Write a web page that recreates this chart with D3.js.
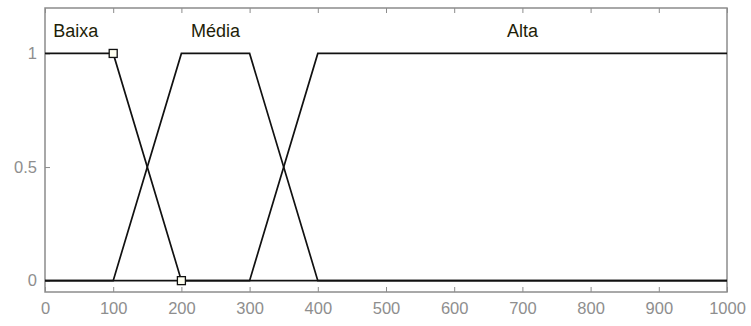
<!DOCTYPE html>
<html>
<head>
<meta charset="utf-8">
<script src="https://cdn.jsdelivr.net/npm/d3@7"></script>
<style>
  body { margin: 0; background: #fff; }
  svg { display: block; }
  .tick text { fill: #8e8e8e; font-family: Arial, "Liberation Sans", sans-serif; font-size: 16.5px; }
  .mflabel { font-family: Arial, "Liberation Sans", sans-serif; font-size: 18px; fill: #1e1e08; }
</style>
</head>
<body>
<svg id="chart" width="751" height="326"></svg>
<script>
// membership functions (trapezoids), x from 0 to 1000
var names = ['Baixa', 'Média', 'Alta'];
var baixa = [[0, 1], [100, 1], [200, 0], [1000, 0]];
var media = [[0, 0], [100, 0], [200, 1], [300, 1], [400, 0], [1000, 0]];
var alta = [[0, 0], [300, 0], [400, 1], [1000, 1]];
var labelX = [45, 250, 700];
var markers = [[100, 1], [200, 0]];
var xTicks = [0, 100, 200, 300, 400, 500, 600, 700, 800, 900, 1000];
var yTicks = [0, 0.5, 1];

var svg = d3.select('#chart');
var mLeft = 45, mRight = 727, mTop = 8, mBottom = 292;

var x = d3.scaleLinear().domain([0, 1000]).range([mLeft, mRight]);
var y = d3.scaleLinear().domain([-0.05, 1.2]).range([mBottom, mTop]);

// axes with inward ticks
svg.append('g')
  .attr('transform', 'translate(0,' + mBottom + ')')
  .call(d3.axisBottom(x).tickValues(xTicks).tickSizeInner(-5).tickSizeOuter(0).tickPadding(10)
    .tickFormat(d3.format('d')))
  .call(function(g){ g.select('.domain').remove(); });

svg.append('g')
  .attr('transform', 'translate(0,' + mTop + ')')
  .call(d3.axisTop(x).tickValues(xTicks).tickSizeInner(-5).tickSizeOuter(0).tickFormat(''))
  .call(function(g){ g.select('.domain').remove(); });

svg.append('g')
  .attr('transform', 'translate(' + mLeft + ',0)')
  .call(d3.axisLeft(y).tickValues(yTicks).tickSizeInner(-5).tickSizeOuter(0).tickPadding(8)
    .tickFormat(d3.format('')))
  .call(function(g){ g.select('.domain').remove(); });

svg.selectAll('.tick line').attr('stroke', '#8c8c8c');

// box
svg.append('rect')
  .attr('x', mLeft).attr('y', mTop)
  .attr('width', mRight - mLeft).attr('height', mBottom - mTop)
  .attr('fill', 'none').attr('stroke', '#8c8c8c').attr('stroke-width', 1.5);

var line = d3.line().x(function(d){ return x(d[0]); }).y(function(d){ return y(d[1]); });

[baixa, media, alta].forEach(function(mf){
  svg.append('path')
    .attr('d', line(mf))
    .attr('fill', 'none')
    .attr('stroke', '#111')
    .attr('stroke-width', 1.7);
});

svg.selectAll('.mark')
  .data(markers)
  .enter().append('rect')
  .attr('x', function(d){ return x(d[0]) - 4; })
  .attr('y', function(d){ return y(d[1]) - 4; })
  .attr('width', 8).attr('height', 8)
  .attr('fill', '#fffff0')
  .attr('stroke', '#111').attr('stroke-width', 1.3);

svg.selectAll('.mflabel')
  .data(names)
  .enter().append('text')
  .attr('class', 'mflabel')
  .attr('x', function(d, i){ return x(labelX[i]); })
  .attr('y', y(1.1))
  .attr('dy', '0.35em')
  .attr('text-anchor', 'middle')
  .text(function(d){ return d; });
</script>
</body>
</html>
